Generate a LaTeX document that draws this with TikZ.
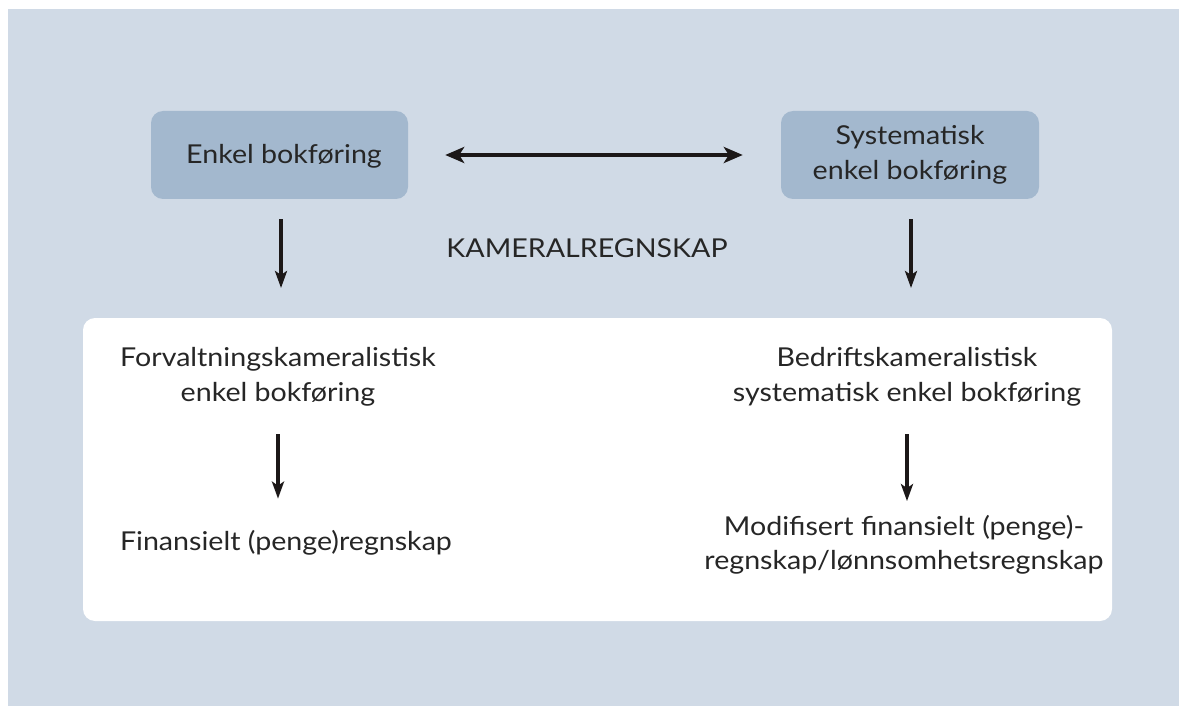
\documentclass[tikz,border=0pt]{standalone}
\usepackage{fontspec}
\setmainfont{Lato}[FakeStretch=1.1]
\usetikzlibrary{arrows.meta}
\definecolor{bg}{RGB}{208,218,230}
\definecolor{boxc}{RGB}{163,184,206}
\definecolor{txt}{RGB}{38,38,38}
\definecolor{arrc}{RGB}{28,24,24}
\begin{document}
\begin{tikzpicture}[x=1pt,y=-1pt,
  lbl/.style={font=\fontsize{26}{34.5}\selectfont, text=txt, align=center, inner sep=0pt},
  bluebox/.style={fill=boxc, rounded corners=12pt, minimum width=257pt, minimum height=88pt, inner sep=0pt},
  arr/.style={draw=arrc, line width=4.5pt, -{Stealth[length=17pt,width=12pt,inset=4pt]}},
  darr/.style={draw=arrc, line width=4.5pt, {Stealth[length=19pt,width=16pt,inset=5pt]}-{Stealth[length=19pt,width=16pt,inset=5pt]}}]
\useasboundingbox (0,0) rectangle (1179,706);
\fill[white] (0,0) rectangle (1179,706);
\fill[bg] (8,9) rectangle (1179,706);
\node[fill=white, rounded corners=12pt, minimum width=1029pt, minimum height=303pt, inner sep=0pt] (panel) at (597.5,469.5) {};
% top boxes
\node[bluebox] (b1) at (279.5,155) {};
\node[lbl, anchor=base] (t1) at (284,164) {Enkel bokføring};
\node[bluebox, minimum width=258pt] (b2) at (910,155) {};
\node[lbl] (t2) at (910,155) {Systematisk\\enkel bokføring};
\node[lbl, anchor=base] (kam) at (587,257) {KAMERALREGNSKAP};
% lower texts
\node[lbl] (f1) at (278,377) {Forvaltningskameralistisk\\enkel bokføring};
\node[lbl, anchor=base] (fin) at (286,550) {Finansielt (penge)regnskap};
\node[lbl] (bd) at (907,377) {Bedriftskameralistisk\\systematisk enkel bokføring};
\node[lbl] (mod) at (904,545) {Modifisert finansielt (penge)-\\regnskap/lønnsomhetsregnskap};
% end points
\coordinate (e1) at (281,288);
\coordinate (e2) at (911,288);
% connectors
\draw[darr, shorten <=37pt, shorten >=38pt] (b1.east) -- (b2.west);
\draw[arr, shorten <=20pt] (b1.south -| e1) -- (e1);
\draw[arr, shorten <=20pt] (b2.south -| e2) -- (e2);
\draw[arr] ([yshift=-28pt]f1.south) -- ([yshift=31pt]f1.south |- fin.north);
\draw[arr] ([yshift=-28pt]bd.south) -- ([yshift=14pt]bd.south |- mod.north);
\end{tikzpicture}
\end{document}
